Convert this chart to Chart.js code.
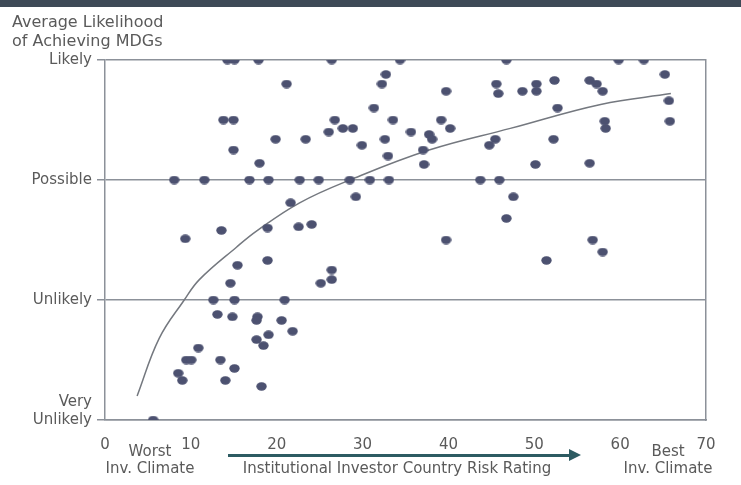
<!DOCTYPE html>
<html lang="en">
  <head>
    <meta charset="UTF-8" />
    <title>Average Likelihood of Achieving MDGs</title>
    <script src="https://cdn.jsdelivr.net/npm/chart.js@4.4.1/dist/chart.umd.min.js"></script>
    <style>
      body { margin: 0; background: #fff; font-family: "DejaVu Sans", sans-serif; color: #5a5a5a; }
      .wrap { position: relative; width: 741px; height: 485px; overflow: hidden; }
      .topbar { position: absolute; left: 0; top: 0; width: 741px; height: 7px; background: #3e4a57; }
      .title { position: absolute; left: 12px; top: 12px; font-size: 16px; line-height: 19px; }
      .note { position: absolute; font-size: 15px; line-height: 17px; text-align: center; }
      .arrow { position: absolute; left: 228px; top: 454px; width: 342px; height: 3px; background: #2d5b62; }
      .head { position: absolute; left: 569px; top: 449px; width: 0; height: 0;
        border-top: 6.5px solid transparent; border-bottom: 6.5px solid transparent; border-left: 12px solid #2d5b62; }
    </style>
  </head>
  <body>
    <div class="wrap">
      <canvas id="mdgChart" width="741" height="485"></canvas>
      <div class="topbar"></div>
      <div class="title">Average Likelihood<br />of Achieving MDGs</div>
      <div class="note" style="left: 90px; top: 443px; width: 120px">Worst<br />Inv. Climate</div>
      <div class="arrow"></div>
      <div class="head"></div>
      <div class="note" style="left: 197px; top: 460px; width: 400px">Institutional Investor Country Risk Rating</div>
      <div class="note" style="left: 608px; top: 443px; width: 120px">Best<br />Inv. Climate</div>
    </div>

    <script>
      // likelihood: 1 = very unlikely ... 4 = likely
      const yTickLabels = [["Very", "Unlikely", ""], "Unlikely", "Possible", "Likely"];
      const xTicks = [0, 10, 20, 30, 40, 50, 60, 70];

      const riskRating = [
        14.26, 15.08, 17.88, 26.41, 34.36, 46.75, 59.83, 62.76,
        8.06, 11.57, 16.83, 19.05, 22.67, 24.89, 28.51, 30.85, 33.07, 43.71, 45.93,
        12.62, 15.08, 20.92, 5.61,
        21.15, 13.79, 14.96, 19.87, 23.37, 14.96, 18.0, 21.62, 13.56, 18.93, 22.55, 24.07, 9.35,
        32.72, 32.25, 39.73, 45.58, 45.81, 31.32, 26.76, 33.54, 39.15, 26.06, 27.7, 28.87, 40.2,
        35.64, 37.75, 38.1, 32.6, 29.92, 37.05, 32.96, 45.46, 44.76, 37.16, 29.22, 39.73, 47.56, 46.75,
        65.21, 48.62, 50.25, 50.25, 52.35, 56.45, 57.26, 57.96, 65.68, 52.71, 58.2, 58.31, 65.79,
        52.24, 50.13, 56.45, 56.8, 57.96, 51.42,
        15.43, 18.93, 14.61, 13.09, 14.84, 17.76, 17.65, 20.57, 21.85, 19.05, 17.65, 18.46,
        10.87, 9.47, 10.05, 13.44, 15.08, 8.53, 9.0, 14.02, 18.23, 26.41, 26.41, 25.13
      ];
      const likelihood = [
        4, 4, 4, 4, 4, 4, 4, 4,
        3, 3, 3, 3, 3, 3, 3, 3, 3, 3, 3,
        2, 2, 2, 1,
        3.8, 3.5, 3.5, 3.34, 3.34, 3.25, 3.14, 2.81, 2.58, 2.6, 2.61, 2.63, 2.51,
        3.88, 3.8, 3.74, 3.8, 3.72, 3.6, 3.5, 3.5, 3.5, 3.4, 3.43, 3.43, 3.43,
        3.4, 3.38, 3.34, 3.34, 3.29, 3.25, 3.2, 3.34, 3.29, 3.13, 2.86, 2.5, 2.86, 2.68,
        3.88, 3.74, 3.8, 3.74, 3.83, 3.83, 3.8, 3.74, 3.66, 3.6, 3.49, 3.43, 3.49,
        3.34, 3.13, 3.14, 2.5, 2.4, 2.33,
        2.29, 2.33, 2.14, 1.88, 1.86, 1.86, 1.83, 1.83, 1.74, 1.71, 1.67, 1.62,
        1.6, 1.5, 1.5, 1.5, 1.43, 1.39, 1.33, 1.33, 1.28, 2.25, 2.17, 2.14
      ];

      // fitted curve
      const trendX = [3.74, 6.31, 9.23, 10.99, 15.31, 17.76, 22.67, 28.51, 37.75, 47.21, 57.73, 65.91];
      const trendY = [1.2, 1.68, 2.0, 2.17, 2.44, 2.58, 2.81, 3.0, 3.25, 3.43, 3.63, 3.72];

      const lineGray = "#8c9199";
      const textGray = "#5a5a5a";
      const font = { family: "DejaVu Sans", size: 15 };

      // slightly flattened dot like the scan
      const dot = document.createElement("canvas");
      dot.width = 11;
      dot.height = 9;
      const dctx = dot.getContext("2d");
      dctx.fillStyle = "#4c5170";
      dctx.beginPath();
      dctx.ellipse(5.5, 4.5, 5.2, 4.2, 0, 0, Math.PI * 2);
      dctx.fill();

      const points = riskRating.map((x, i) => ({ x: x, y: likelihood[i] }));
      const trend = trendX.map((x, i) => ({ x: x, y: trendY[i] }));

      new Chart(document.getElementById("mdgChart"), {
        type: "scatter",
        data: {
          datasets: [
            {
              label: "Countries",
              data: points,
              pointStyle: dot,
              pointRadius: 5,
              order: 1
            },
            {
              label: "Trend",
              data: trend,
              showLine: true,
              pointRadius: 0,
              borderColor: "#74787f",
              borderWidth: 1.5,
              tension: 0.4,
              fill: false,
              order: 2
            }
          ]
        },
        options: {
          responsive: false,
          animation: false,
          layout: { padding: { top: 60, right: 35, left: 0, bottom: 0 } },
          plugins: { legend: { display: false }, tooltip: { enabled: false } },
          scales: {
            x: {
              type: "linear",
              min: xTicks[0],
              max: xTicks[xTicks.length - 1],
              afterBuildTicks: (s) => { s.ticks = xTicks.map((v) => ({ value: v })); },
              ticks: { color: textGray, font: font, padding: 8 },
              grid: { display: false },
              border: { color: lineGray, width: 1.5 },
              afterFit: (s) => { s.height = 65; }
            },
            y: {
              min: 1,
              max: 4,
              ticks: {
                stepSize: 1,
                color: textGray,
                font: font,
                padding: 5,
                callback: (v) => yTickLabels[v - 1]
              },
              grid: { color: lineGray, lineWidth: 1.5, tickLength: 8 },
              border: { color: lineGray, width: 1.5 },
              afterFit: (s) => { s.width = 105; }
            },
            yR: {
              position: "right",
              min: 1,
              max: 4,
              ticks: { display: false },
              grid: { display: false },
              border: { color: lineGray, width: 1.5 },
              afterFit: (s) => { s.width = 0; }
            }
          }
        }
      });
    </script>
  </body>
</html>
